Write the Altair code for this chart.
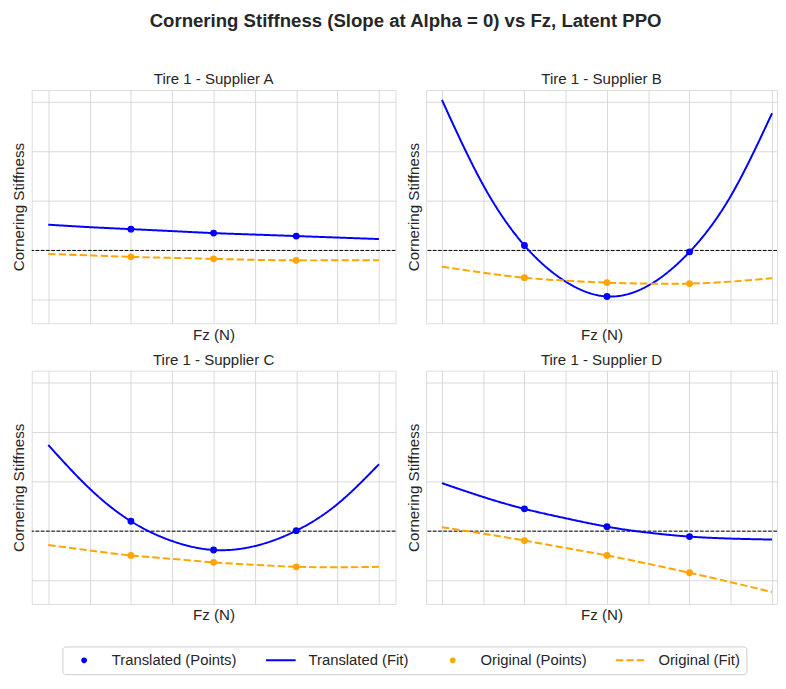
import altair as alt
import pandas as pd

FONT = "Liberation Sans"
TXT = "#262626"
NB = "\u00a0"

# ---- data -------------------------------------------------------------------
panel_names = ["Tire 1 - Supplier A", "Tire 1 - Supplier B",
               "Tire 1 - Supplier C", "Tire 1 - Supplier D"]
series_names = ["Translated (Points)", "Translated (Fit)",
                "Original (Points)", "Original (Fit)"]
series_colors = ["blue", "blue", "orange", "orange"]

fit_x = [0, 1, 2, 3, 4, 5, 6, 7, 8]      # Fz grid positions (unlabelled)
pt_x = [2, 4, 6]
y_grid = [-1, 0, 1, 2, 3]
ref_value = [0]

a_trans_pts = [0.43, 0.35, 0.29]
a_orig_pts = [-0.13, -0.17, -0.20]
a_trans_fit = [0.52, 0.47, 0.43, 0.39, 0.35, 0.32, 0.29, 0.26, 0.23]
a_orig_fit = [-0.07, -0.10, -0.13, -0.15, -0.17, -0.19, -0.20, -0.20, -0.20]

b_trans_pts = [0.10, -0.93, -0.03]
b_orig_pts = [-0.55, -0.65, -0.67]
b_trans_fit = [3.04, 1.32, 0.10, -0.63, -0.93, -0.71, -0.03, 1.10, 2.77]
b_orig_fit = [-0.33, -0.45, -0.55, -0.61, -0.65, -0.67, -0.67, -0.63, -0.56]

c_trans_pts = [0.20, -0.38, 0.01]
c_orig_pts = [-0.49, -0.63, -0.72]
c_trans_fit = [1.74, 0.86, 0.20, -0.20, -0.38, -0.30, 0.01, 0.55, 1.35]
c_orig_fit = [-0.28, -0.39, -0.49, -0.56, -0.63, -0.68, -0.72, -0.73, -0.72]

d_trans_pts = [0.45, 0.09, -0.11]
d_orig_pts = [-0.19, -0.49, -0.84]
d_trans_fit = [0.97, 0.69, 0.45, 0.26, 0.09, -0.03, -0.11, -0.15, -0.17]
d_orig_fit = [0.08, -0.05, -0.19, -0.34, -0.49, -0.66, -0.84, -1.03, -1.23]

panel_data = [
    (a_trans_pts, a_orig_pts, a_trans_fit, a_orig_fit),
    (b_trans_pts, b_orig_pts, b_trans_fit, b_orig_fit),
    (c_trans_pts, c_orig_pts, c_trans_fit, c_orig_fit),
    (d_trans_pts, d_orig_pts, d_trans_fit, d_orig_fit),
]

# ---- styling ----------------------------------------------------------------
color_scale = alt.Scale(domain=series_names, range=series_colors)
dash_scale = alt.Scale(domain=series_names,
                       range=[[1, 0], [1, 0], [1, 0], [7.4, 3.2]])
shape_scale = alt.Scale(domain=series_names,
                        range=["circle", "stroke", "circle", "stroke"])
size_scale = alt.Scale(type="ordinal", domain=series_names,
                       range=[15, 900, 15, 900])
y_scale = alt.Scale(domain=[-1.47, 3.24], nice=False, zero=False)

label_expr = (
    "indexof(datum.label, 'Points') >= 0 ? '" + NB * 2 + "' + datum.label : "
    "(datum.label == 'Translated (Fit)' ? datum.label + '" + NB * 2 + "' : datum.label)"
)

legend = alt.Legend(
    title=None, orient="none", legendX=31, legendY=563,
    direction="horizontal", columns=4, columnPadding=28, clipHeight=16,
    symbolStrokeWidth=2, symbolOpacity=1,
    symbolFillColor="blue", symbolStrokeColor="blue",
    labelFont=FONT, labelFontSize=15, labelColor=TXT, labelOffset=12,
    labelExpr=label_expr, labelLimit=300,
    padding=6, strokeColor="#cccccc", cornerRadius=3, fillColor="white",
)


def make_panel(i, width, xdomain):
    tp, op, tf, of = panel_data[i]
    fit_df = pd.DataFrame({
        "x": fit_x * 2,
        "v": tf + of,
        "series": [series_names[1]] * len(fit_x) + [series_names[3]] * len(fit_x),
    })
    pt_df = pd.DataFrame({
        "x": pt_x * 2,
        "v": tp + op,
        "series": [series_names[0]] * len(pt_x) + [series_names[2]] * len(pt_x),
    })
    ref_df = pd.DataFrame({"v": ref_value})

    x_enc = alt.X("x:Q", scale=alt.Scale(domain=xdomain, nice=False, zero=False),
                  axis=alt.Axis(values=fit_x, labels=False, ticks=False, domain=False,
                                grid=True, gridColor="#d9d9d9", gridWidth=1,
                                title="Fz (N)", titleFont=FONT, titleFontSize=15.3,
                                titleFontWeight="normal", titleColor=TXT,
                                titlePadding=4))
    y_enc = alt.Y("v:Q", scale=y_scale,
                  axis=alt.Axis(values=y_grid, labels=False, ticks=False, domain=False,
                                grid=True, gridColor="#d9d9d9", gridWidth=1,
                                title="Cornering Stiffness", titleFont=FONT,
                                titleFontSize=15.3, titleFontWeight="normal",
                                titleColor=TXT, titlePadding=5))
    color = alt.Color("series:N", scale=color_scale, legend=legend)

    ref = alt.Chart(ref_df).mark_rule(color="black", strokeWidth=1,
                                      strokeDash=[3.7, 1.6]).encode(y=y_enc)
    lines = alt.Chart(fit_df).mark_line(interpolate="natural", strokeWidth=2).encode(
        x=x_enc, y=y_enc, color=color,
        strokeDash=alt.StrokeDash("series:N", scale=dash_scale, legend=legend),
    )
    pts = alt.Chart(pt_df).mark_point(filled=True, size=48, opacity=1).encode(
        x=x_enc, y=y_enc, color=color,
        shape=alt.Shape("series:N", scale=shape_scale, legend=legend),
    )
    # invisible layer that only carries the legend symbol sizes
    sizes = alt.Chart(pt_df).mark_point(filled=True, opacity=0).encode(
        x=x_enc, y=y_enc,
        size=alt.Size("series:N", scale=size_scale, legend=legend),
    )
    return alt.layer(ref, lines, pts, sizes).properties(
        width=width, height=236,
        title=alt.TitleParams(panel_names[i], font=FONT, fontSize=15.2,
                              fontWeight="normal", color=TXT, offset=3,
                              frame="group", anchor="middle"),
    )


left_dom = [-0.4, 8.4]
right_dom = [-0.383, 8.12]
pA = make_panel(0, 368, left_dom)
pB = make_panel(1, 355, right_dom)
pC = make_panel(2, 368, left_dom)
pD = make_panel(3, 355, right_dom)

chart = alt.vconcat(
    alt.hconcat(pA, pB, spacing=9),
    alt.hconcat(pC, pD, spacing=9),
    spacing=9,
).resolve_scale(color="shared", strokeDash="shared", shape="shared",
                size="shared").properties(
    title=alt.TitleParams("Cornering Stiffness (Slope at Alpha = 0) vs Fz, Latent PPO",
                          font=FONT, fontSize=18.8, fontWeight="bold", color=TXT,
                          anchor="middle", offset=41, dx=11),
    padding={"left": 3, "top": 0, "right": 0, "bottom": 0},
).configure_view(stroke="#333333", strokeWidth=1.25).configure(background="white")

chart.save("out.html", embed_options={"renderer": "svg", "actions": False})
